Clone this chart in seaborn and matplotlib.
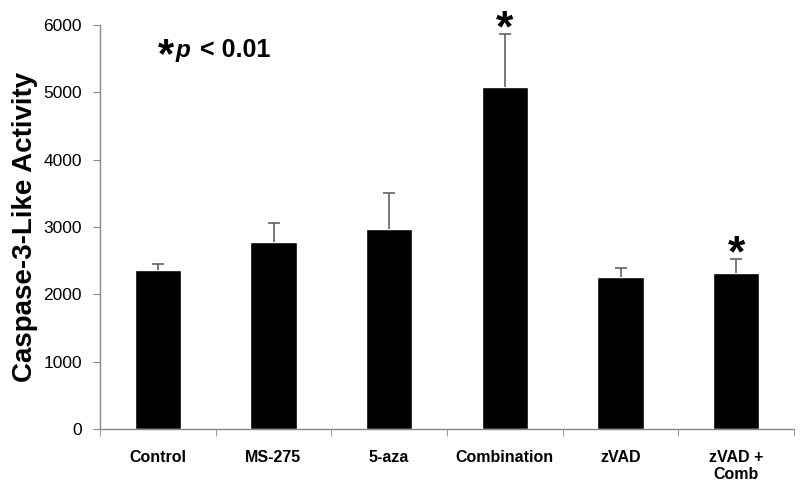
import numpy as np
import pandas as pd
import seaborn as sns
import matplotlib.pyplot as plt
from matplotlib.ticker import FixedLocator

# Data
categories = ["Control", "MS-275", "5-aza", "Combination", "zVAD", "zVAD +\nComb"]
activity = [2370, 2780, 2975, 5075, 2255, 2315]
err_upper = [80, 280, 535, 785, 135, 205]
significant = [False, False, False, True, False, True]
y_ticks = [0, 1000, 2000, 3000, 4000, 5000, 6000]

sns.set_style("white")
plt.rcParams['font.family'] = ['Liberation Sans', 'DejaVu Sans']
plt.rcParams['text.color'] = 'black'
plt.rcParams['axes.labelcolor'] = 'black'
plt.rcParams['xtick.labelcolor'] = 'black'
plt.rcParams['ytick.labelcolor'] = 'black'

fig, ax = plt.subplots(figsize=(8, 4.9), dpi=100)
fig.subplots_adjust(left=0.125, right=0.9925, bottom=0.124, top=0.949)

df = pd.DataFrame({"group": categories, "activity": activity})
sns.barplot(data=df, x="group", y="activity", color="black", width=0.4,
            saturation=1, errorbar=None, ax=ax)

# upper-only error bars
x = np.arange(len(categories))
_, caps, _ = ax.errorbar(x, activity, yerr=[np.zeros(len(x)), err_upper], fmt='none',
                         ecolor='#555555', elinewidth=1.1, capsize=4, capthick=1.1)
caps[0].set_visible(False)  # hide the cap sitting on the bar top

# significance stars above bars
for i, (val, err, sig) in enumerate(zip(activity, err_upper, significant)):
    if sig:
        ax.annotate("*", xy=(i, val + err), xytext=(0, -5), textcoords='offset points',
                    ha='center', va='baseline', fontsize=32, fontweight='bold',
                    color='black', annotation_clip=False)

# axes styling
ax.set_xlim(-0.5, len(categories) - 0.5)
ax.set_ylim(0, 6000)
ax.set_yticks(y_ticks)
ax.set_yticklabels([str(t) for t in y_ticks], fontsize=12.5)
ax.set_xticks(x)
ax.set_xticklabels(categories, fontsize=11.5, fontweight='bold')
ax.xaxis.set_minor_locator(FixedLocator(np.arange(len(categories) + 1) - 0.5))
ax.tick_params(axis='x', which='major', length=0, pad=15, labelcolor='black')
ax.tick_params(axis='x', which='minor', length=5, color='#888888', bottom=True)
ax.tick_params(axis='y', length=5, color='#888888', left=True, pad=8, labelcolor='black')
for side in ['top', 'right']:
    ax.spines[side].set_visible(False)
for side in ['left', 'bottom']:
    ax.spines[side].set_color('#888888')
    ax.spines[side].set_linewidth(1)

ax.set_xlabel("")
ax.set_ylabel("Caspase-3-Like Activity", fontsize=20, fontweight='bold', labelpad=4,
              color='black')

# p-value note
fig.text(158 / 800, 1 - 67 / 490, "*", fontsize=30, fontweight='bold', va='baseline')
fig.text(176 / 800, 1 - 57 / 490, "p", fontsize=17.5, fontweight='bold',
         fontstyle='italic', va='baseline')
fig.text(200 / 800, 1 - 57 / 490, "< 0.01", fontsize=18, fontweight='bold', va='baseline')

fig.savefig("out.png", dpi=100)
